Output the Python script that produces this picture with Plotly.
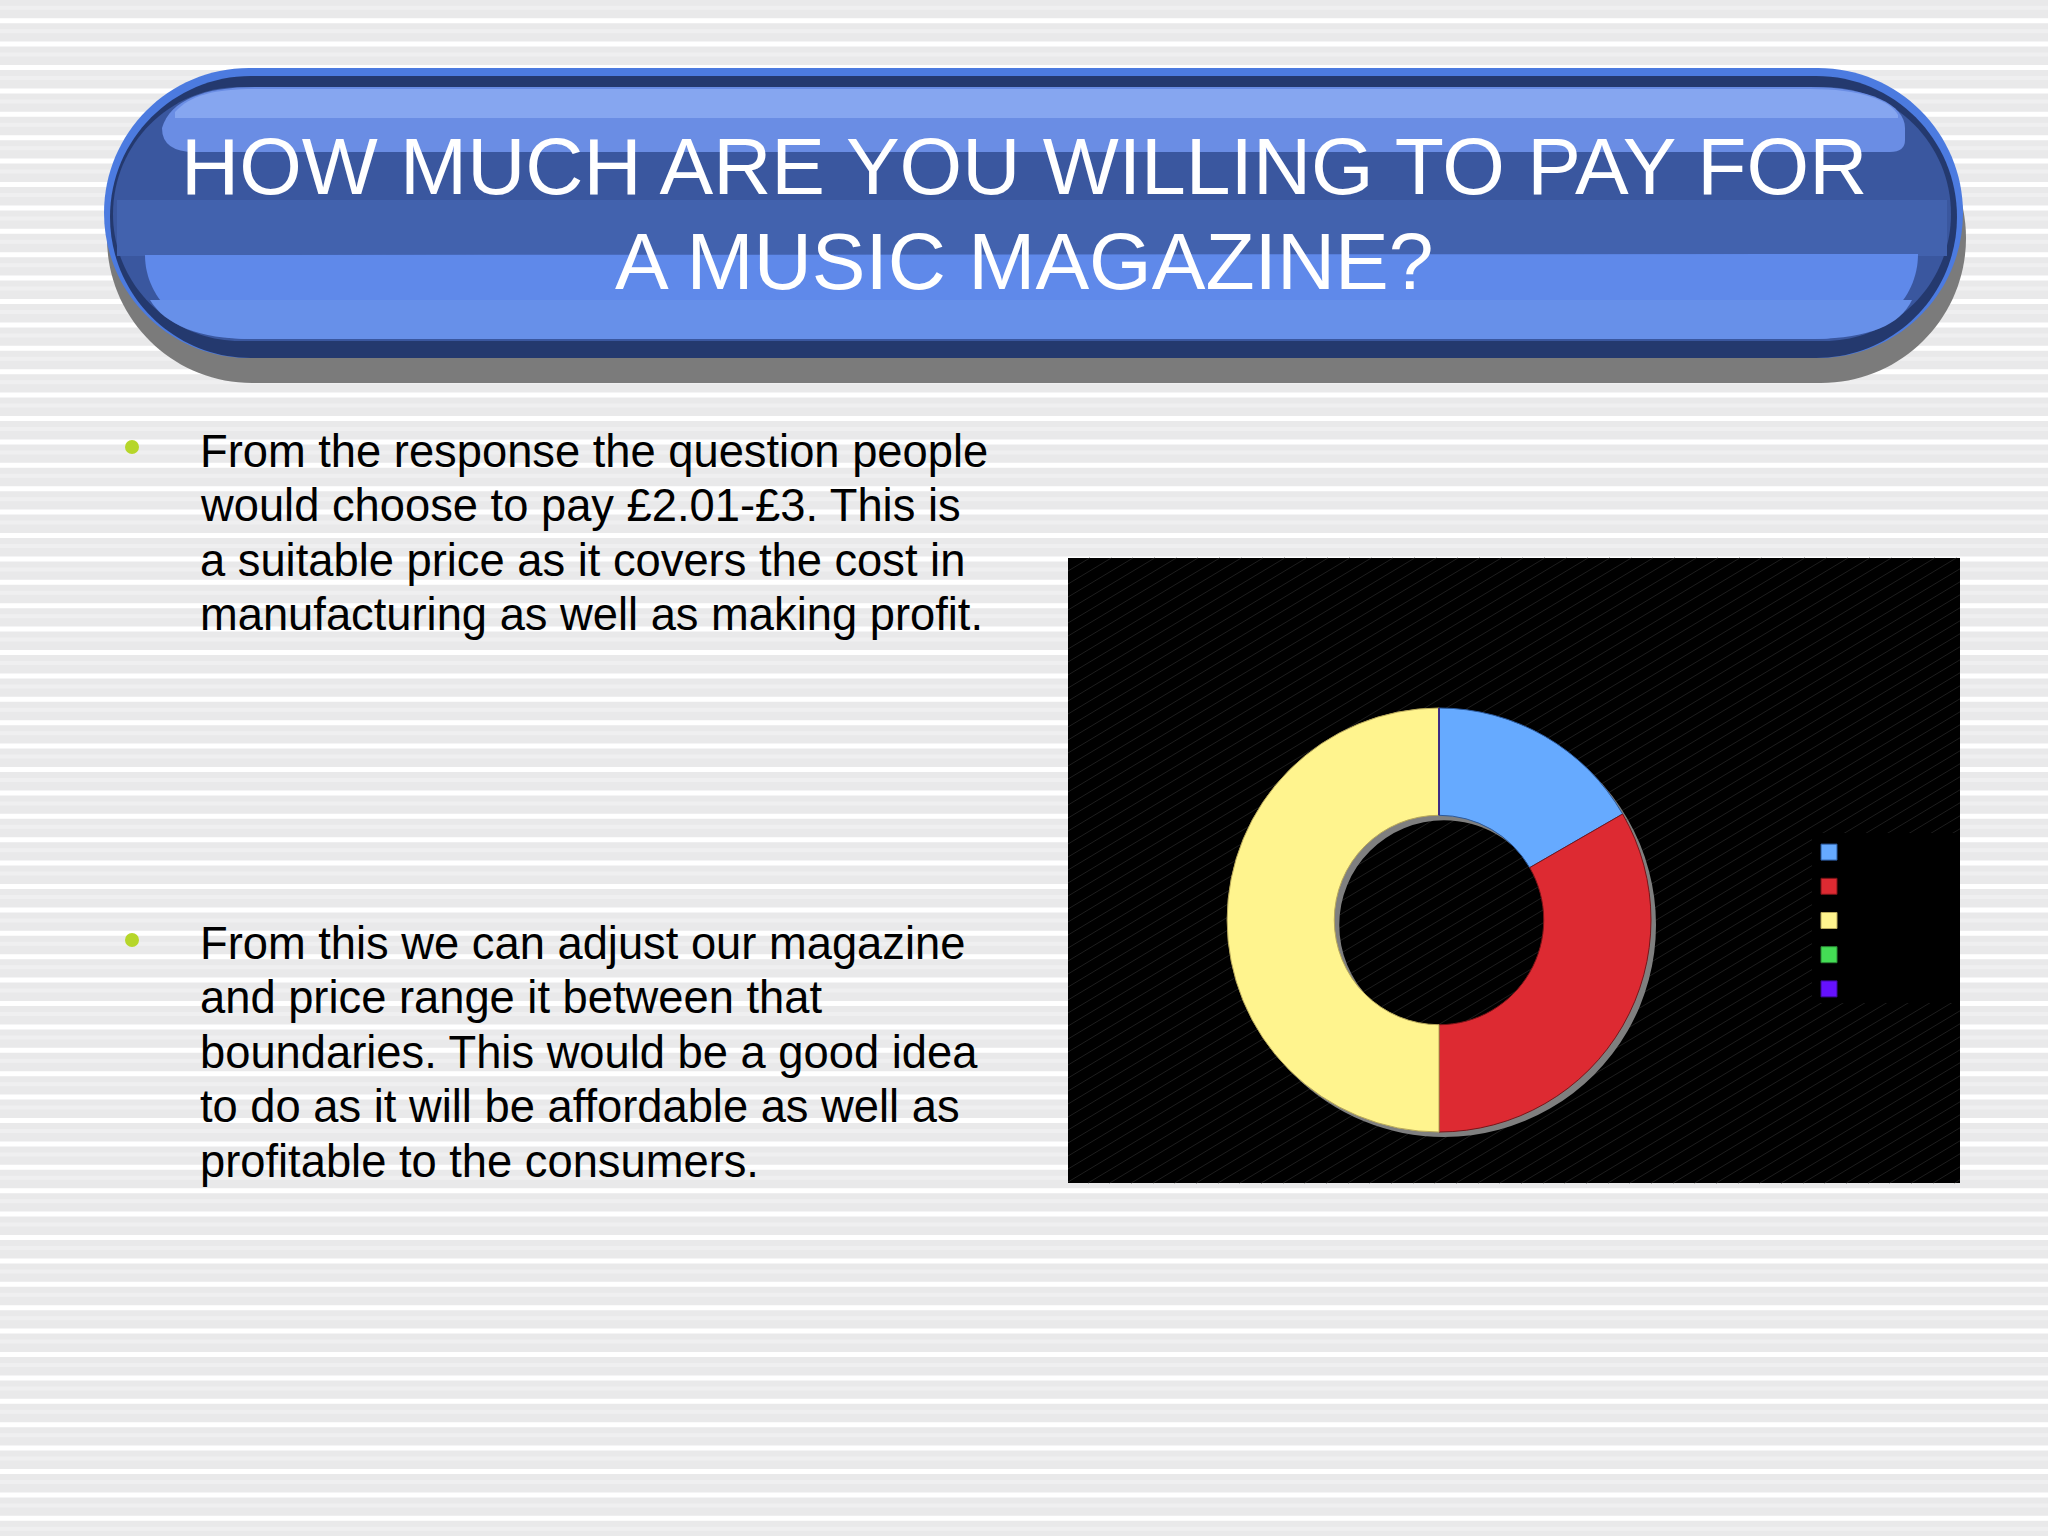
import plotly.graph_objects as go

# ---------------- data ----------------
price_ranges = ["£0-£1", "£1.01-£2", "£2.01-£3", "£3.01-£4", "£4.01+"]
responses = [1, 2, 3, 0, 0]
slice_colors = ["#66aaff", "#dd2a32", "#fff48e", "#44dd55", "#6611ff"]
slice_edges = ["#2b5a9e", "#7a1418", "#b8a85a", "#2a8a35", "#3a0a99"]

title_lines = ["HOW MUCH ARE YOU WILLING TO PAY FOR", "A MUSIC MAGAZINE?"]
bullet1_lines = [
    "From the response the question people",
    "would choose to pay £2.01-£3. This is",
    "a suitable price as it covers the cost in",
    "manufacturing as well as making profit.",
]
bullet2_lines = [
    "From this we can adjust our magazine",
    "and price range it between that",
    "boundaries. This would be a good idea",
    "to do as it will be affordable as well as",
    "profitable to the consumers.",
]

W, H = 2048, 1536
FONT = "Liberation Sans, Arial, sans-serif"


def pill(x0, x1, y0, y1):
    r = (y1 - y0) / 2.0
    cy = (y0 + y1) / 2.0
    k = 0.5523 * r
    return (f"M{x0+r},{y0} L{x1-r},{y0} "
            f"C{x1-r+k},{y0} {x1},{cy-k} {x1},{cy} "
            f"C{x1},{cy+k} {x1-r+k},{y1} {x1-r},{y1} "
            f"L{x0+r},{y1} "
            f"C{x0+r-k},{y1} {x0},{cy+k} {x0},{cy} "
            f"C{x0},{cy-k} {x0+r-k},{y0} {x0+r},{y0} Z")


shapes = []
# background stripes
y = 65.0 - 23.4 * 3
while y < H:
    shapes.append(dict(type="rect", xref="x", yref="y", x0=0, x1=W, y0=y, y1=y + 5,
                       fillcolor="#ffffff", line_width=0, layer="below"))
    shapes.append(dict(type="rect", xref="x", yref="y", x0=0, x1=W, y0=y + 11, y1=y + 15,
                       fillcolor="#efeff0", line_width=0, layer="below"))
    y += 23.4

# chart box (below the pie layer)
BX0, BX1, BY0, BY1 = 1068, 1960, 558, 1183
shapes.append(dict(type="rect", xref="x", yref="y", x0=BX0, x1=BX1, y0=BY0, y1=BY1,
                   fillcolor="#000000", line_width=0, layer="below"))
slope = 0.6
segs = []
c = BY0
while c < BY1 + slope * (BX1 - BX0):
    pts = []
    yl = c
    if BY0 <= yl <= BY1:
        pts.append((BX0, yl))
    yr = c - slope * (BX1 - BX0)
    if BY0 <= yr <= BY1:
        pts.append((BX1, yr))
    xt = BX0 + (c - BY0) / slope
    if BX0 <= xt <= BX1:
        pts.append((xt, BY0))
    xb = BX0 + (c - BY1) / slope
    if BX0 <= xb <= BX1:
        pts.append((xb, BY1))
    if len(pts) >= 2:
        (a, b), (d, e) = pts[0], pts[1]
        segs.append(f"M{a:.1f},{b:.1f} L{d:.1f},{e:.1f}")
    c += 13
shapes.append(dict(type="path", xref="x", yref="y", path=" ".join(segs),
                   line=dict(color="#1d1d1d", width=1), layer="below"))
# plain (unhatched) legend panel
shapes.append(dict(type="rect", xref="x", yref="y", x0=1812, x1=1960, y0=833, y1=1003,
                   fillcolor="#000000", line_width=0, layer="below"))

# banner
shapes += [
    dict(type="path", xref="x", yref="y", path=pill(107, 1966, 93, 383), fillcolor="#7b7b7b", line_width=0),
    dict(type="path", xref="x", yref="y", path=pill(104, 1963, 68, 358), fillcolor="#4c7be0", line_width=0),
    dict(type="path", xref="x", yref="y", path=pill(110, 1957, 76, 358), fillcolor="#24396e", line_width=0),
    dict(type="path", xref="x", yref="y", path=pill(113, 1951, 87, 341), fillcolor="#3a579f", line_width=0),
    dict(type="rect", xref="x", yref="y", x0=117, x1=1947, y0=200, y1=256,
         fillcolor="#4262ae", line_width=0),
    # top highlight
    dict(type="path", xref="x", yref="y",
         path="M162,128 C170,100 205,87 255,87 L1810,87 C1870,87 1905,105 1905,128 "
              "L1905,140 Q1905,152 1890,152 L195,152 Q162,152 162,128 Z",
         fillcolor="#6a8de4", line_width=0),
    dict(type="path", xref="x", yref="y",
         path="M175,112 C190,95 215,89 255,89 L1810,89 C1860,89 1890,100 1898,115 L1898,118 L175,118 Z",
         fillcolor="#86a6f0", line_width=0),
    # lower band
    dict(type="path", xref="x", yref="y",
         path="M145,255 L1918,254 C1918,300 1880,338 1815,339 L250,339 C185,339 145,300 145,255 Z",
         fillcolor="#5f89ea", line_width=0),
    dict(type="path", xref="x", yref="y",
         path="M150,300 L1912,300 C1900,325 1870,338 1815,339 L250,339 C200,339 165,325 150,300 Z",
         fillcolor="#6790e9", line_width=0),
]

# bullets
for by in (447, 940):
    shapes.append(dict(type="circle", xref="x", yref="y", x0=125, x1=139, y0=by - 7, y1=by + 7,
                       fillcolor="#b6d62a", line_width=0))

annotations = []
for i, t in enumerate(title_lines):
    annotations.append(dict(x=1024, y=166 + i * 95, xref="x", yref="y", text=t, showarrow=False,
                            xanchor="center", yanchor="middle",
                            font=dict(family=FONT, size=80.5, color="#ffffff")))
for i, t in enumerate(bullet1_lines):
    annotations.append(dict(x=198, y=451 + i * 54.5, xref="x", yref="y", text=t, showarrow=False,
                            xanchor="left", yanchor="middle",
                            font=dict(family=FONT, size=45.3, color="#000000")))
for i, t in enumerate(bullet2_lines):
    annotations.append(dict(x=198, y=943 + i * 54.5, xref="x", yref="y", text=t, showarrow=False,
                            xanchor="left", yanchor="middle",
                            font=dict(family=FONT, size=45.3, color="#000000")))

# donut geometry (pixels)
CX, CY, R = 1439, 920, 212
SH = 5


def dom(cx, cy, r):
    return dict(x=[(cx - r) / W, (cx + r) / W], y=[1 - (cy + r) / H, 1 - (cy - r) / H])


fig = go.Figure()
# invisible anchor trace so the cartesian axes exist
fig.add_trace(go.Scatter(x=[0, W], y=[0, H], mode="markers", marker=dict(opacity=0),
                         showlegend=False, hoverinfo="skip"))
fig.add_trace(go.Pie(
    labels=price_ranges, values=responses, hole=0.494, sort=False, direction="clockwise",
    rotation=0, domain=dom(CX + SH, CY + SH, R), textinfo="none", hoverinfo="skip",
    marker=dict(colors=["#7f7f7f"] * len(responses), line=dict(width=0)),
    showlegend=False, name="shadow"))
fig.add_trace(go.Pie(
    labels=price_ranges, values=responses, hole=0.494, sort=False, direction="clockwise",
    rotation=0, domain=dom(CX, CY, R), textinfo="none",
    marker=dict(colors=slice_colors, line=dict(color=slice_edges, width=1)),
    showlegend=False, name="price"))
# legend entries (one per price range)
for lab, col, edge in zip(price_ranges, slice_colors, slice_edges):
    fig.add_trace(go.Scatter(x=[None], y=[None], mode="markers", name=lab,
                             marker=dict(symbol="square", size=18, color=col,
                                         line=dict(color=edge, width=1))))

fig.update_layout(
    width=W, height=H, margin=dict(l=0, r=0, t=0, b=0),
    paper_bgcolor="#e9e9ea", plot_bgcolor="rgba(0,0,0,0)",
    xaxis=dict(range=[0, W], visible=False, fixedrange=True, domain=[0, 1]),
    yaxis=dict(range=[H, 0], visible=False, fixedrange=True, domain=[0, 1]),
    shapes=shapes, annotations=annotations,
    legend=dict(x=1809 / W, y=1 - 830 / H, xanchor="left", yanchor="top",
                bgcolor="rgba(0,0,0,0)", font=dict(family=FONT, size=24, color="#000000"),
                traceorder="normal"),
)

fig.write_html("out.html", config={"displayModeBar": False},
               post_script="document.body.style.margin='0';document.body.style.overflow='hidden';")
